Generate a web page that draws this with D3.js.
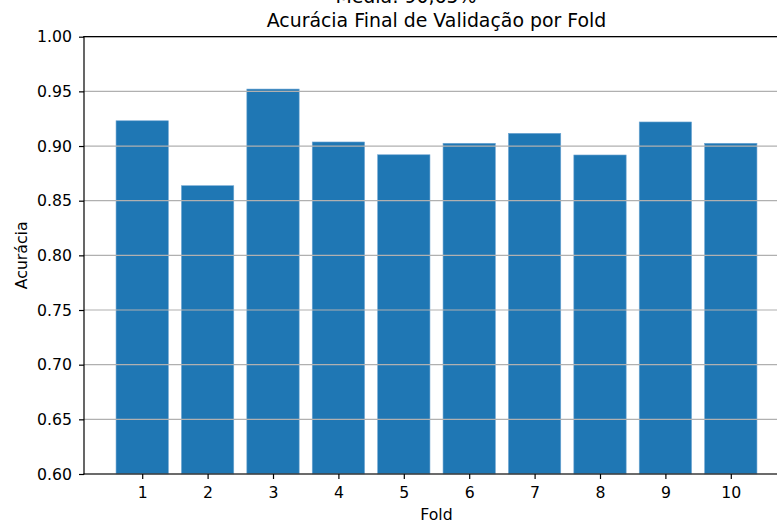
<!DOCTYPE html>
<html>
<head>
<meta charset="utf-8">
<script src="https://cdn.jsdelivr.net/npm/d3@7"></script>
<style>
  html, body { margin: 0; padding: 0; background: #fff; overflow: hidden; }
  svg { display: block; font-family: "DejaVu Sans", sans-serif; }
</style>
</head>
<body>
<svg id="chart" width="777" height="522"></svg>
<script>
// Final validation accuracy for each cross-validation fold
const folds = [1, 2, 3, 4, 5, 6, 7, 8, 9, 10];
const accuracy = [0.9231, 0.8637, 0.9521, 0.9037, 0.8920, 0.9025, 0.9116, 0.8918, 0.9220, 0.9025];
const yTicks = [0.60, 0.65, 0.70, 0.75, 0.80, 0.85, 0.90, 0.95, 1.00];

const svg = d3.select("#chart");
const margin = { left: 84, top: 36.7, bottom: 474, right: 789 };
const tickFont = "15.7px";
const titleFont = "18.9px";

const x = d3.scaleLinear().domain([0.11, 10.89]).range([margin.left, margin.right]);
const y = d3.scaleLinear().domain([0.60, 1.00]).range([margin.bottom, margin.top]);
const barWidth = 0.8;

// bars
svg.append("g").selectAll("rect")
  .data(folds)
  .join("rect")
  .attr("x", (d) => x(d - barWidth / 2))
  .attr("width", (d) => x(d + barWidth / 2) - x(d - barWidth / 2))
  .attr("y", (d, i) => y(accuracy[i]))
  .attr("height", (d, i) => y(0.60) - y(accuracy[i]))
  .attr("fill", "#1f77b4")
  .attr("stroke", "#6fa6d2")
  .attr("stroke-width", 0.6);

// horizontal grid, drawn over the bars
svg.append("g").selectAll("line")
  .data(yTicks)
  .join("line")
  .attr("x1", margin.left)
  .attr("x2", margin.right)
  .attr("y1", (d) => y(d))
  .attr("y2", (d) => y(d))
  .attr("stroke", "#b0b0b0")
  .attr("stroke-width", 1.2);

// y axis
const yAxis = d3.axisLeft(y)
  .tickValues(yTicks)
  .tickFormat(d3.format(".2f"))
  .tickSize(5)
  .tickPadding(7);
const gy = svg.append("g")
  .attr("transform", `translate(${margin.left},0)`)
  .call(yAxis);
gy.select(".domain").remove();
gy.selectAll(".tick line").attr("stroke", "#000").attr("stroke-width", 1.2);
gy.selectAll(".tick text")
  .attr("font-family", "DejaVu Sans")
  .attr("font-size", tickFont)
  .attr("fill", "#000");

// x axis
const xAxis = d3.axisBottom(x)
  .tickValues(folds)
  .tickFormat(d3.format("d"))
  .tickSize(5)
  .tickPadding(7.5);
const gx = svg.append("g")
  .attr("transform", `translate(0,${margin.bottom})`)
  .call(xAxis);
gx.select(".domain").remove();
gx.selectAll(".tick line").attr("stroke", "#000").attr("stroke-width", 1.2);
gx.selectAll(".tick text")
  .attr("font-family", "DejaVu Sans")
  .attr("font-size", tickFont)
  .attr("fill", "#000");

// spines
[[margin.left, margin.top, margin.left, margin.bottom],
 [margin.left, margin.bottom, margin.right, margin.bottom],
 [margin.right, margin.top, margin.right, margin.bottom],
 [margin.left, margin.top, margin.right, margin.top]].forEach(([x1, y1, x2, y2]) => {
  svg.append("line")
    .attr("x1", x1).attr("y1", y1).attr("x2", x2).attr("y2", y2)
    .attr("stroke", "#000").attr("stroke-width", 1.2)
    .attr("stroke-linecap", "square");
});

// axis labels
const axesCenterX = (margin.left + margin.right) / 2;
svg.append("text")
  .attr("x", axesCenterX)
  .attr("y", 520)
  .attr("text-anchor", "middle")
  .attr("font-size", tickFont)
  .attr("fill", "#000")
  .text("Fold");

svg.append("text")
  .attr("transform", `translate(27,${(margin.top + margin.bottom) / 2}) rotate(-90)`)
  .attr("text-anchor", "middle")
  .attr("font-size", tickFont)
  .attr("fill", "#000")
  .text("Acurácia");

// titles: the summary line sits above the top edge of the figure
const meanAcc = d3.mean(accuracy) * 100;
svg.append("text")
  .attr("x", 406)
  .attr("y", 2.5)
  .attr("text-anchor", "middle")
  .attr("font-size", titleFont)
  .attr("fill", "#000")
  .text("Média: " + meanAcc.toFixed(2).replace(".", ",") + "%");

svg.append("text")
  .attr("x", axesCenterX)
  .attr("y", 26.5)
  .attr("text-anchor", "middle")
  .attr("font-size", titleFont)
  .attr("fill", "#000")
  .text("Acurácia Final de Validação por Fold");
</script>
</body>
</html>
